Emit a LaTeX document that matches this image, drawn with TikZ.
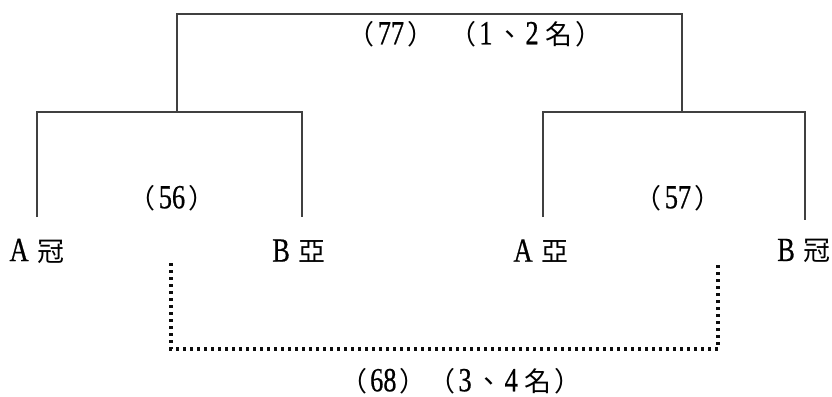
\documentclass[tikz,border=0pt]{standalone}
\usepackage{fontspec}
\newfontfamily\cjk{Noto Sans CJK TC}
\newfontfamily\lat[FakeStretch=0.78,Scale=1.25,FakeBold=0.6]{Liberation Serif}
\newcommand{\lp}{{\cjk （}\kern1.5pt}
\newcommand{\rp}{\kern1.5pt{\cjk ）}}
\begin{document}
\begin{tikzpicture}[x=0.5pt,y=-0.5pt,
  bline/.style={line width=1.15pt, draw=black!75, line join=miter},
  dline/.style={line width=1.6pt, draw=black!95, dash pattern=on 1.4pt off 2.1pt},
  lbl/.style={inner sep=0pt, font=\fontsize{13.5}{15}\selectfont}]
\useasboundingbox (0,0) rectangle (832,397);
% bracket coordinates
\coordinate (t1) at (177,112);
\coordinate (t2) at (682,112);
\coordinate (l1) at (37,217);
\coordinate (l2) at (302,217);
\coordinate (r1) at (543,217);
\coordinate (r2) at (805,220);
\coordinate (d1) at (171,263);
\coordinate (d2) at (718,263);
% brackets
\draw[bline] (t1) |- (432,14) -| (t2);
\draw[bline] (l1) |- (t1) -| (l2);
\draw[bline] (r1) |- (t2) -| (r2);
\draw[dline] (d1) |- (445,349) -| (d2);
% labels
\node[lbl] (f1a) at (391,34) {\lp{\lat 77}\rp};
\node[lbl] (f1b) at (526,34) {\lp{\lat 1}\kern2pt{\cjk 、}\kern1pt{\lat 2}\kern3.5pt{\cjk 名}\rp};
\node[lbl] (s1) at (172,198) {\lp{\lat 56}\rp};
\node[lbl] (s2) at (678,198) {\lp{\lat 57}\rp};
\node[lbl] (ac) at (37,251) {{\lat A} {\cjk 冠}};
\node[lbl] (by) at (299,251) {{\lat B} {\cjk 亞}};
\node[lbl] (ay) at (541,251) {{\lat A} {\cjk 亞}};
\node[lbl] (bc) at (804,251) {{\lat B} {\cjk 冠}};
\node[lbl] (f3) at (461,381) {\lp{\lat 68}\rp\kern1pt\lp{\lat 3}\kern2pt{\cjk 、}\kern1pt{\lat 4}\kern3.5pt{\cjk 名}\rp};
\end{tikzpicture}
\end{document}
